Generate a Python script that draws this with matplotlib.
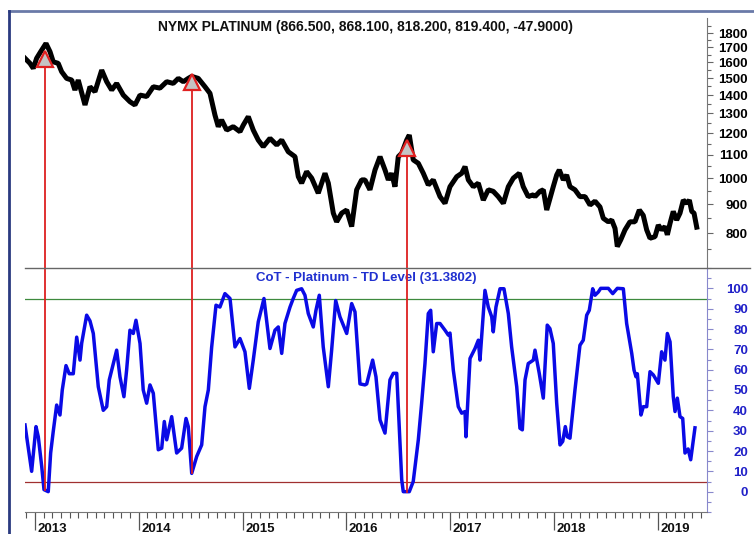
import numpy as np
import matplotlib
matplotlib.use("Agg")
import matplotlib.pyplot as plt
from matplotlib.ticker import FixedLocator, MultipleLocator, NullFormatter
from matplotlib.lines import Line2D

plt.rcParams['font.family'] = ['Liberation Sans', 'DejaVu Sans']

# price (decimal year, price)
price_t = [2012.904, 2012.952, 2012.984, 2013.016, 2013.055, 2013.106, 2013.145, 2013.176, 2013.224, 2013.257,
           2013.305, 2013.354, 2013.385, 2013.417, 2013.482, 2013.530, 2013.578, 2013.643, 2013.691, 2013.739,
           2013.787, 2013.851, 2013.915, 2013.963, 2014.012, 2014.076, 2014.140, 2014.204, 2014.269, 2014.332,
           2014.381, 2014.429, 2014.477, 2014.510, 2014.573, 2014.638, 2014.686, 2014.734, 2014.766, 2014.798,
           2014.847, 2014.910, 2014.975, 2015.007, 2015.055, 2015.103, 2015.151, 2015.199, 2015.264, 2015.329,
           2015.377, 2015.440, 2015.505, 2015.537, 2015.569, 2015.617, 2015.666, 2015.729, 2015.762, 2015.794,
           2015.826, 2015.874, 2015.906, 2015.955, 2016.003, 2016.051, 2016.099, 2016.147, 2016.179, 2016.227,
           2016.276, 2016.324, 2016.372, 2016.404, 2016.436, 2016.468, 2016.500, 2016.533, 2016.581, 2016.606,
           2016.644, 2016.693, 2016.741, 2016.789, 2016.837, 2016.902, 2016.950, 2016.998, 2017.063, 2017.111,
           2017.143, 2017.175, 2017.223, 2017.271, 2017.319, 2017.367, 2017.415, 2017.463, 2017.512, 2017.560,
           2017.608, 2017.666, 2017.704, 2017.752, 2017.801, 2017.817, 2017.865, 2017.897, 2017.930, 2017.961,
           2017.993, 2018.026, 2018.051, 2018.090, 2018.122, 2018.154, 2018.202, 2018.250, 2018.299, 2018.347,
           2018.395, 2018.443, 2018.475, 2018.523, 2018.556, 2018.588, 2018.610, 2018.643, 2018.684, 2018.732,
           2018.780, 2018.822, 2018.860, 2018.893, 2018.925, 2018.973, 2019.005, 2019.037, 2019.069, 2019.092,
           2019.118, 2019.149, 2019.182, 2019.214, 2019.246, 2019.279, 2019.304, 2019.327, 2019.349, 2019.375]
price = [1625, 1592, 1560, 1625, 1669, 1726, 1669, 1602, 1592, 1539,
         1498, 1488, 1429, 1488, 1345, 1448, 1419, 1549, 1478, 1429,
         1468, 1400, 1363, 1345, 1400, 1392, 1448, 1440, 1478, 1468,
         1498, 1478, 1498, 1510, 1498, 1448, 1410, 1291, 1232, 1266,
         1215, 1232, 1207, 1240, 1283, 1215, 1167, 1136, 1175, 1144,
         1167, 1113, 1091, 1006, 980, 1027, 1000, 941, 980, 1020,
         980, 868, 838, 868, 879, 822, 954, 993, 993, 954,
         1034, 1091, 1034, 993, 1020, 966, 1091, 1106, 1167, 1191,
         1077, 1062, 1020, 973, 993, 928, 903, 966, 1006, 1020,
         1048, 993, 966, 980, 915, 954, 948, 928, 903, 966,
         1000, 1020, 966, 928, 935, 928, 948, 954, 879, 921,
         966, 1013, 1034, 993, 1013, 966, 954, 928, 928, 897,
         911, 890, 850, 838, 844, 816, 758, 779, 811, 838,
         838, 879, 860, 811, 784, 789, 827, 811, 822, 795,
         833, 874, 844, 868, 915, 903, 915, 874, 868, 820]

# CoT TD level (decimal year, value)
cot_t = [2012.904, 2012.968, 2013.010, 2013.032, 2013.065, 2013.087, 2013.128, 2013.151, 2013.176, 2013.209,
         2013.241, 2013.263, 2013.299, 2013.330, 2013.369, 2013.402, 2013.434, 2013.450, 2013.498, 2013.530,
         2013.562, 2013.610, 2013.658, 2013.691, 2013.716, 2013.787, 2013.819, 2013.857, 2013.883, 2013.915,
         2013.947, 2013.973, 2014.012, 2014.043, 2014.076, 2014.108, 2014.140, 2014.188, 2014.221, 2014.246,
         2014.269, 2014.317, 2014.365, 2014.413, 2014.455, 2014.477, 2014.510, 2014.558, 2014.606, 2014.638,
         2014.670, 2014.702, 2014.744, 2014.782, 2014.830, 2014.879, 2014.927, 2014.975, 2015.023, 2015.065,
         2015.103, 2015.151, 2015.206, 2015.264, 2015.312, 2015.344, 2015.377, 2015.408, 2015.457, 2015.488,
         2015.521, 2015.569, 2015.601, 2015.633, 2015.681, 2015.707, 2015.739, 2015.777, 2015.826, 2015.858,
         2015.897, 2015.938, 2016.003, 2016.051, 2016.083, 2016.131, 2016.179, 2016.196, 2016.253, 2016.285,
         2016.324, 2016.372, 2016.420, 2016.452, 2016.485, 2016.533, 2016.548, 2016.606, 2016.644, 2016.693,
         2016.725, 2016.757, 2016.789, 2016.812, 2016.837, 2016.870, 2016.902, 2016.950, 2016.982, 2016.998,
         2017.030, 2017.078, 2017.111, 2017.143, 2017.152, 2017.191, 2017.239, 2017.271, 2017.287, 2017.335,
         2017.367, 2017.400, 2017.415, 2017.441, 2017.480, 2017.518, 2017.560, 2017.592, 2017.641, 2017.672,
         2017.695, 2017.721, 2017.752, 2017.801, 2017.817, 2017.858, 2017.897, 2017.935, 2017.961, 2017.993,
         2018.026, 2018.058, 2018.084, 2018.109, 2018.128, 2018.154, 2018.202, 2018.250, 2018.282, 2018.315,
         2018.340, 2018.373, 2018.395, 2018.427, 2018.450, 2018.523, 2018.566, 2018.610, 2018.668, 2018.700,
         2018.749, 2018.771, 2018.790, 2018.803, 2018.838, 2018.860, 2018.893, 2018.925, 2018.957, 2019.005,
         2019.037, 2019.069, 2019.092, 2019.118, 2019.149, 2019.166, 2019.188, 2019.214, 2019.240, 2019.262,
         2019.292, 2019.317, 2019.358]
cot = [32.8, 10, 32, 27, 12.4, 1, 0, 19, 29.6, 42.6,
       37.7, 50, 62, 58, 58, 76, 64.7, 73, 86.8, 84,
       77.8, 51.6, 40, 41.8, 55, 69.6, 56.5, 46.7, 59.8, 79.4,
       77.8, 84.3, 72.9, 50, 43.5, 52.5, 48.4, 20.6, 21.4, 34.5,
       25.5, 36.9, 19, 21.4, 36, 32, 9, 17.3, 23, 41.8,
       50, 71, 91.7, 90.8, 97.4, 95, 71.2, 75.3, 68.8, 50.8,
       64.7, 83.5, 95, 70.4, 79.4, 81, 68, 82.7, 90.8, 95,
       99, 99.8, 96.6, 87.6, 81, 89.2, 96.6, 71.2, 51.6, 69.6,
       94, 86, 77.8, 92.5, 88.4, 53, 52.5, 53, 64.7, 56.5,
       35.3, 28.8, 55, 58.2, 58.2, 5.9, 0, 0, 5, 25.5,
       43.5, 63, 87.6, 89.2, 68.8, 82.7, 82.7, 79.4, 77, 78,
       59.8, 41.8, 38.6, 39.4, 27, 65.5, 70.4, 74.5, 64.7, 99,
       90.8, 86, 78.6, 90.8, 99.8, 99.8, 87.6, 71.2, 51.6, 31.2,
       30.4, 55, 63, 64.7, 69.6, 58.2, 46, 81.9, 80.2, 72.9,
       43.5, 23, 24.7, 32, 27, 26.3, 50, 72, 74.5, 86.8,
       89.2, 99.8, 96.6, 98.2, 100, 100, 97.4, 100, 99.8, 82.7,
       68, 59.8, 56.5, 58, 37.7, 41.8, 41.8, 59, 57.4, 53.3,
       68.8, 64.7, 77.8, 73.7, 46.7, 39.4, 46, 36.9, 36, 19,
       21, 15.7, 31.4]

# signals: date, price at triangle, cot at the low
sig_t = [2013.096, 2014.510, 2016.580]
sig_price = [1620, 1476, 1129]
sig_cot = [1, 9, 0]

years = [2013, 2014, 2015, 2016, 2017, 2018, 2019]
price_ticks = [800, 900, 1000, 1100, 1200, 1300, 1400, 1500, 1600, 1700, 1800]
cot_ticks = [0, 10, 20, 30, 40, 50, 60, 70, 80, 90, 100]
upper_lvl, lower_lvl = 95, 5

title = "NYMX PLATINUM (866.500, 868.100, 818.200, 819.400, -47.9000)"
cot_label = "CoT - Platinum - TD Level (31.3802)"

fig = plt.figure(figsize=(7.54, 5.34), dpi=100)
W, H = 754.0, 534.0
left, right = 25 / W, 707 / W
ax1 = fig.add_axes([left, 1 - 268 / H, right - left, (268 - 18) / H])
ax2 = fig.add_axes([left, 1 - 512 / H, right - left, (512 - 268) / H], sharex=ax1)

xlim = (2012.904, 2019.474)

# --- top panel
ax1.plot(price_t, price, color='black', lw=3.6, solid_joinstyle='bevel', zorder=3)
ax1.set_yscale('log')
ax1.set_ylim(695, 1913)
for t, p in zip(sig_t, sig_price):
    ax1.plot([t, t], [695, p], color='#dd2020', lw=1.3, zorder=4)
ax1.plot(sig_t, sig_price, ls='none', marker='^', ms=11, mfc='#c4c4c4', mec='#e02020', mew=1.6, zorder=5)
ax1.yaxis.tick_right()
ax1.yaxis.set_major_locator(FixedLocator(price_ticks))
ax1.yaxis.set_minor_locator(FixedLocator([750 + 100 * i for i in range(12)]))
ax1.yaxis.set_major_formatter(matplotlib.ticker.FixedFormatter([str(v) for v in price_ticks]))
ax1.yaxis.set_minor_formatter(NullFormatter())
ax1.tick_params(axis='y', which='major', length=4, width=0.8, color='#666666', pad=25.5, labelsize=9.5)
ax1.tick_params(axis='y', which='minor', length=3, width=0.8, color='#666666')
for lab in ax1.get_yticklabels():
    lab.set_horizontalalignment('right')
    lab.set_fontweight('bold')
ax1.tick_params(axis='x', which='both', bottom=False, labelbottom=False)
for s in ['left', 'top', 'bottom']:
    ax1.spines[s].set_visible(False)
ax1.spines['right'].set_color('#777777')
ax1.text(0.5, 1 - (27 - 18) / 250, title, transform=ax1.transAxes, ha='center', va='center',
         fontsize=10, fontweight='bold', color='#111111')

# --- bottom panel
ax2.plot(cot_t, cot, color='#0a0ae6', lw=2.5, solid_joinstyle='round', zorder=3)
ax2.axhline(upper_lvl, color='#3d8a3d', lw=0.9, zorder=2)
ax2.axhline(lower_lvl, color='#a03030', lw=0.9, zorder=2)
for t, c in zip(sig_t, sig_cot):
    ax2.plot([t, t], [c, 110], color='#dd2020', lw=1.3, zorder=4)
ax2.set_ylim(-10, 110)
ax2.set_xlim(*xlim)
ax2.yaxis.tick_right()
ax2.set_yticks(cot_ticks)
ax2.yaxis.set_minor_locator(MultipleLocator(5))
ax2.tick_params(axis='y', which='major', length=4, width=0.8, color='#8888cc', pad=25.5,
                labelsize=9.5, labelcolor='#2020c8')
ax2.tick_params(axis='y', which='minor', length=3, width=0.8, color='#8888cc')
for lab in ax2.get_yticklabels():
    lab.set_horizontalalignment('right')
    lab.set_fontweight('bold')
ax2.set_xticks(years)
ax2.xaxis.set_minor_locator(MultipleLocator(1 / 12))
ax2.tick_params(axis='x', which='major', length=13, width=0.9, color='#555555', labelbottom=False)
ax2.tick_params(axis='x', which='minor', length=4, width=0.8, color='#555555')
for y in years:
    ax2.text(y + 0.025, -0.068, str(y), transform=ax2.get_xaxis_transform(), ha='left', va='center',
             fontsize=9.5, fontweight='bold', color='#111111')
for s in ['left', 'top']:
    ax2.spines[s].set_visible(False)
ax2.spines['right'].set_color('#8888cc')
ax2.spines['bottom'].set_color('#777777')
ax2.text(0.5, 1 - (278 - 268) / 244, cot_label, transform=ax2.transAxes, ha='center', va='center',
         fontsize=9.5, fontweight='bold', color='#2030d0')

# divider between panels and outer frame
fig.add_artist(Line2D([left, 750 / W], [1 - 268 / H, 1 - 268 / H], color='#666666', lw=1.0))
fig.add_artist(Line2D([9 / W, 1.0], [1 - 11 / H, 1 - 11 / H], color='#6a7aa8', lw=2.0))
fig.add_artist(Line2D([9 / W, 9 / W], [0, 1 - 11 / H], color='#2a3a80', lw=2.0))

fig.savefig('out.png', dpi=100)
